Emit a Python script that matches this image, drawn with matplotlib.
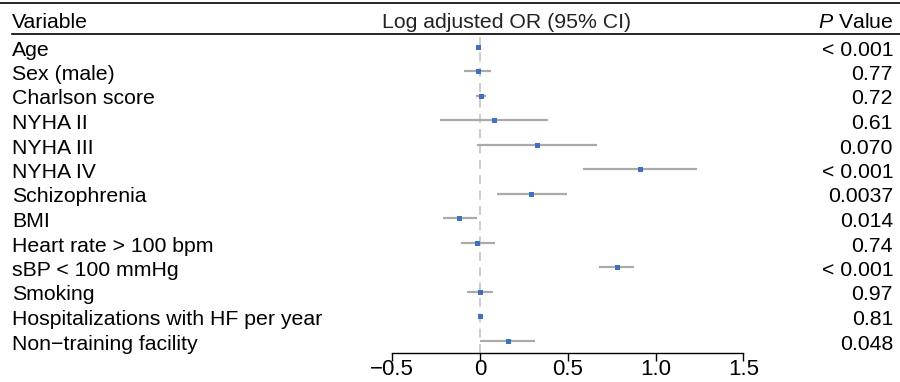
import matplotlib
matplotlib.use("Agg")
import matplotlib.pyplot as plt

plt.rcParams['font.family'] = ['Liberation Sans', 'DejaVu Sans']
plt.rcParams['mathtext.fontset'] = 'custom'
plt.rcParams['mathtext.it'] = 'Liberation Sans:italic'
plt.rcParams['mathtext.rm'] = 'Liberation Sans'

variables = ["Age", "Sex (male)", "Charlson score", "NYHA II", "NYHA III", "NYHA IV",
             "Schizophrenia", "BMI", "Heart rate > 100 bpm", "sBP < 100 mmHg", "Smoking",
             "Hospitalizations with HF per year", "Non\u2212training facility"]
estimate = [-0.011, -0.011, 0.006, 0.080, 0.326, 0.911, 0.292, -0.119, -0.017, 0.780, 0.000, 0.000, 0.159]
ci_low = [-0.015, -0.093, -0.023, -0.229, -0.019, 0.589, 0.095, -0.212, -0.110, 0.680, -0.074, -0.004, 0.000]
ci_high = [-0.007, 0.065, 0.036, 0.390, 0.669, 1.235, 0.493, -0.019, 0.083, 0.879, 0.076, 0.004, 0.315]
p_values = ["< 0.001", "0.77", "0.72", "0.61", "0.070", "< 0.001", "0.0037", "0.014",
            "0.74", "< 0.001", "0.97", "0.81", "0.048"]
x_ticks = [-0.5, 0, 0.5, 1.0, 1.5]
x_tick_labels = ["\u22120.5", "0", "0.5", "1.0", "1.5"]

W, H = 900, 382
fig = plt.figure(figsize=(W / 100, H / 100), dpi=100)

# full-figure axes in pixel coordinates for text & rules
axf = fig.add_axes([0, 0, 1, 1])
axf.set_xlim(0, W)
axf.set_ylim(H, 0)
axf.axis('off')

FS = 15.3
FS_TICK = 16
row0, step = 46.7, 24.5
n = len(variables)

# forest axes
left_px, right_px = 392.3, 743.3
top_px, bot_px = 34.0, 353.3
ax = fig.add_axes([left_px / W, 1 - bot_px / H, (right_px - left_px) / W, (bot_px - top_px) / H])
ax.set_xlim(-0.5, 1.5)
ax.set_ylim((bot_px - row0) / step, (top_px - row0) / step)
ax.patch.set_alpha(0)
for s in ['top', 'right', 'left']:
    ax.spines[s].set_visible(False)
ax.spines['bottom'].set_linewidth(1.0)
ax.set_yticks([])
ax.set_xticks(x_ticks)
ax.set_xticklabels(x_tick_labels, fontsize=FS_TICK)
ax.tick_params(axis='x', length=5.5, width=1.0, pad=-1.5, direction='out')

ax.axvline(0, color='#c8c8c8', lw=1.3, ls=(0, (5, 3.5)), zorder=1)
rows = list(range(n))
ax.hlines(rows, ci_low, ci_high, color='#aaaaaa', lw=1.6, zorder=2)
ax.plot(estimate, rows, 's', color='#4070c0', ms=3.6, mew=0, zorder=3)

# header and rules
axf.plot([0, W], [2.5, 2.5], color='black', lw=1.2)
axf.plot([12, W], [33.5, 33.5], color='black', lw=1.2)
axf.text(12, 28.5, "Variable", fontsize=FS, va='baseline', ha='left')
axf.text(382, 28.5, "Log adjusted OR (95% CI)", fontsize=FS, va='baseline', ha='left', color='#222222')
axf.text(893, 28.5, r"$P$ Value", fontsize=FS, va='baseline', ha='right')

for i in range(n):
    y = 55.5 + step * i
    axf.text(12, y, variables[i], fontsize=FS, va='baseline', ha='left')
    axf.text(893, y, p_values[i], fontsize=FS, va='baseline', ha='right')

fig.savefig("out.png", dpi=100)
